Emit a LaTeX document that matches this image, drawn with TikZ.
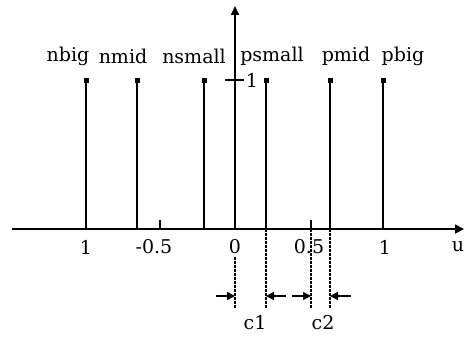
\documentclass[tikz,border=0pt]{standalone}
\usepackage{fontspec}
\setmainfont{DejaVu Serif}
\usetikzlibrary{arrows.meta}
\begin{document}
\begin{tikzpicture}[x=1pt,y=-1pt,font=\fontsize{19}{19}\selectfont,
    guide/.style={dash pattern=on 2.5pt off 1.5pt, line width=1.4pt},
    gap/.style={-{Triangle[length=8pt,width=8pt]}, line width=1.5pt}]
    \useasboundingbox (0,0) rectangle (465,337);
    % axes
    \coordinate (ustart) at (12,229);
    \coordinate (uend) at (464,229);
    \coordinate (o) at (235,229);
    \coordinate (mutop) at (235,6);
    \draw[-{Triangle[length=9pt,width=9pt]}, line width=1.7pt] (ustart) -- (uend);
    \draw[-{Triangle[length=9pt,width=8pt]}, line width=1.7pt] (o) -- (mutop);
    \coordinate (onel) at (225,80);
    \coordinate (oner) at (244,80);
    \draw[line width=1.5pt] (onel) -- (oner) node[right, inner sep=1pt] (one) {1};
    % singletons
    \foreach \x/\name in {86/nbig,137/nmid,204/nsmall,266/psmall,330/pmid,383/pbig} {
        \coordinate (b\name) at (\x,229);
        \coordinate (t\name) at (\x,80);
        \draw[line width=2pt] (b\name) -- (t\name);
        \fill (\x-2.5,77.5) rectangle (\x+2.5,82.5);
    }
    \foreach \x/\name in {68/nbig,123/nmid,194/nsmall,272/psmall,346/pmid,403/pbig} {
        \node (l\name) at (\x,56) {\name};
    }
    % ticks
    \foreach \x/\name in {160/mhalf,311/phalf} {
        \coordinate (k\name) at (\x,229);
        \coordinate (h\name) at (\x,220);
        \draw[line width=1.5pt] (k\name) -- (h\name);
    }
    \foreach \x/\label/\name in {86/1/xa,154/-0.5/xb,235/0/xc,309/0.5/xd,385/1/xe,458/u/xu} {
        \node (\name) at (\x,247) {\label};
    }
    % dead zones
    \coordinate (dza) at (235,257);
    \coordinate (dzb) at (266,229);
    \coordinate (dzc) at (311,229);
    \coordinate (dzd) at (330,229);
    \foreach \c in {dza,dzb,dzc,dzd} {
        \draw[guide] (\c) -- (\c |- 0,308);
    }
    \draw[gap] (216,296) -- (dza |- 0,296);
    \draw[gap] (286,296) -- (dzb |- 0,296);
    \draw[gap] (292,296) -- (dzc |- 0,296);
    \draw[gap] (351,296) -- (dzd |- 0,296);
    \node (cone) at (255,323) {c1};
    \node (ctwo) at (323,323) {c2};
\end{tikzpicture}
\end{document}
